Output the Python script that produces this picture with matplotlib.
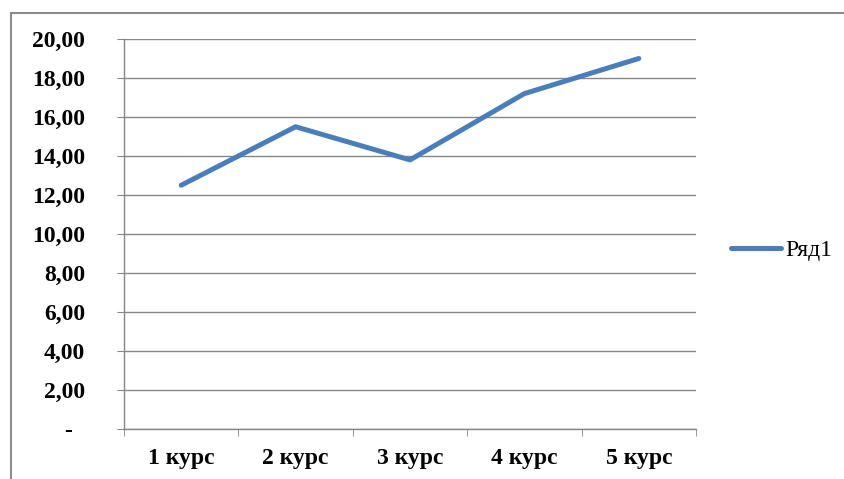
import matplotlib
matplotlib.use('Agg')
import matplotlib.pyplot as plt
from matplotlib.patches import Rectangle

categories = ['1 курс', '2 курс', '3 курс', '4 курс', '5 курс']
values = [12.5, 15.5, 13.8, 17.2, 19.0]
y_ticks = [0, 2, 4, 6, 8, 10, 12, 14, 16, 18, 20]
y_labels = ['-  ', '2,00', '4,00', '6,00', '8,00', '10,00', '12,00', '14,00', '16,00', '18,00', '20,00']
series_name = 'Ряд1'

plt.rcParams['font.family'] = ['Liberation Serif', 'DejaVu Serif']

fig = plt.figure(figsize=(8.45, 4.79), dpi=100)
ax = fig.add_axes([124 / 845, 1 - 429 / 479, (696 - 124) / 845, (429 - 39) / 479])

grid_c = '#868686'
x = list(range(len(categories)))
ax.plot(x, values, color='#4A7EBB', lw=3.6, solid_capstyle='round', label=series_name, zorder=3)

ax.set_xlim(-0.5, len(categories) - 0.5)
ax.set_ylim(0, 20)
ax.set_yticks(y_ticks)
ax.set_yticklabels(y_labels, fontsize=17, fontweight='bold')
ax.set_xticks(x)
ax.set_xticklabels(categories, fontsize=17, fontweight='bold')
ax.set_xticks([i - 0.5 for i in range(len(categories) + 1)], minor=True)

ax.tick_params(axis='y', length=5, color=grid_c, pad=23)
ax.tick_params(axis='x', which='major', length=0, pad=14)
ax.tick_params(axis='x', which='minor', length=5, color=grid_c)
ax.grid(axis='y', color=grid_c, lw=1)
for s in ['top', 'right']:
    ax.spines[s].set_visible(False)
for s in ['left', 'bottom']:
    ax.spines[s].set_color(grid_c)
    ax.spines[s].set_linewidth(1)

fig.legend(loc='center left', bbox_to_anchor=(731 / 845, 1 - 250 / 479), frameon=False,
           fontsize=17, handlelength=2.1, handletextpad=0.2, borderpad=0, borderaxespad=0)

fig.patches.append(Rectangle((11 / 845, -0.1), 1.1, 0.1 + 1 - 13 / 479, transform=fig.transFigure,
                             fill=False, edgecolor='#8c8c8c', lw=1.5))

fig.savefig('out.png', dpi=100)
